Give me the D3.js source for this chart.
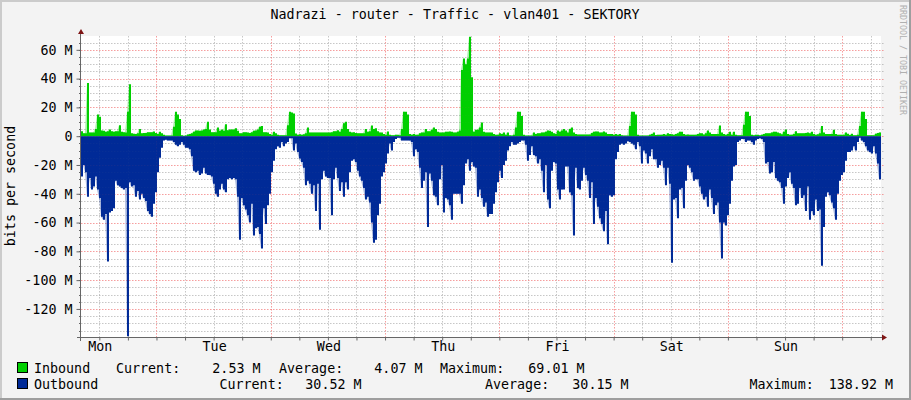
<!DOCTYPE html>
<html>
<head>
<meta charset="utf-8">
<script src="https://cdn.jsdelivr.net/npm/d3@7"></script>
<style>
html, body { margin: 0; padding: 0; background: #f3f3f3; }
svg { display: block; }
text { font-family: "DejaVu Sans Mono", monospace; font-size: 13.33px; fill: #000; white-space: pre; }
</style>
</head>
<body>
<svg id="chart" width="911" height="400"></svg>
<script>
// samples every 25 min or so, in Mbit/s
var inbound = [
    3.5,2,2,37,2.5,2.5,2.5,5,15,13.5,
    4,3.7,3,3.5,4.6,3.5,3,3.5,3.5,7.6,
    3,2.8,2.5,17,36,2,1.7,1.5,2,5,
    2,2.2,2.3,2.8,2.8,2.8,3.2,2.3,1.5,3,
    2,1,.5,.5,.5,.5,6.5,17,15,12,
    .7,.3,.5,1.2,1.5,2,3,4,4,3.7,
    4,4.6,5,10,4.6,2.8,2.8,2.8,6,3.7,
    4.6,3.7,8.3,4.2,4.6,4.6,4.6,5.5,3.7,2,
    2,2.8,2.8,2.6,2.3,2.8,3.7,4,4.6,6.5,
    7,2.8,2.8,2.6,1.6,1,3,2,1,.7,
    .7,.7,.7,7.6,17,16.5,15.7,1.8,1,1.4,
    1,1.4,2,6,2.5,2.5,2.5,2.5,2.5,2.5,
    2.5,2.5,2.5,2.5,2.5,2.8,3.5,3.5,4.2,3,
    5,9,10,5,3,2.5,2.8,2.3,2,2,
    2,2,5,3,3.5,7.5,5,5.5,3.5,2.5,
    2.5,1.6,1,3.2,1,.7,.7,1,1,.7,
    5,17,17,15,1.5,1,1.5,1,1,2,
    2.5,2.5,5,3.5,3.5,4.5,6,5,3,2.5,
    2.5,2.5,3,3,3.2,3,2.5,2.5,3,4,
    46,54,50,54,69,41,3,4.5,4.5,6,
    9.5,3,2.5,2.5,2.5,2.5,1.5,1,1,2,
    1.5,2.5,1,2.5,.7,.5,1,6,17,17,
    14,1,.5,.5,.5,.5,2.5,1.5,2,2,
    2.5,2.5,3,4,3.7,3,2,1.5,4,3,
    4,5,4,2.5,5,6,2.5,1.5,1.2,1.2,
    1.2,1.2,1.2,1.2,1.2,2.3,3,3.2,3.2,2.5,
    2.5,3.2,2.5,1.6,1.6,1.6,1,1.5,1,1.5,
    .7,.5,.5,.5,7,17,17,15,1,.5,
    .5,.5,.5,.5,1,1.5,2.5,.8,1,1,
    1,1.5,1,2,1.5,1.3,1,1.5,2,3,
    3,1.5,1,1.2,1,1,1,1,1.5,2,
    2,1.2,2,4,2.5,1.5,1.5,1.5,1.5,7.5,
    2.5,1.5,1,1.5,3,1,3,1,.7,.7,
    .7,8,17,17,14,1,.7,1,1,.7,
    1,1.5,2,2,2,2.5,3,3,2.5,2,
    1.3,3,4.7,1.5,1,1,1.5,3.5,2,2,
    2,2,2.3,2.5,2,3,1.5,1,1.3,2,
    7,2.5,1.5,1.5,1.5,1.5,4.5,1.5,1,1,
    1,1,2.5,1.7,.8,1.7,.7,.7,1,7,
    17,17,12,.7,.7,.7,.7,1.7,2.3,2.5
]
var outbound = [
    -28,-20,-25,-42,-29,-37,-35,-28,-37,-43,
    -56,-58,-54,-87,-53,-52,-50,-31,-34,-35,
    -36,-37,-36,-139,-32,-35,-34,-42,-38,-44,
    -40,-43,-45,-52,-54,-56,-47,-39,-25,-15,
    -8,-3,-2.5,-3,-3,-3,-4,-6,-7,-6,
    -4,-6,-8,-8,-9,-14,-24,-25,-24,-27,
    -26,-22,-26,-27,-27,-28,-33,-40,-42,-37,
    -33,-37,-39,-30,-29,-30,-29,-30,-42,-72,
    -43,-48,-51,-55,-60,-47,-69,-64,-63,-68,
    -78,-50,-61,-48,-40,-25,-17,-9,-7,-8,
    -4,-7,-5,-4,-1.5,-1.5,-10,-5,-11,-15.5,
    -18,-22,-34,-31,-33,-40,-34,-52,-33,-65,
    -30,-24,-28,-29,-29,-55,-30,-22,-29,-38,
    -32,-42,-32,-37,-25,-17,-16,-18,-24,-28,
    -31,-36,-44,-42,-46,-60,-74,-72,-55,-47,
    -28,-25,-19,-12,-5,-10,-4,-2,-1,-1,
    -3,-3,-3,-3,-3,-4,-14,-9,-11,-22,
    -36,-31,-25,-63,-26,-31,-41,-42,-48,-30,
    -20,-53,-43,-44,-48,-58,-40,-40,-40,-40,
    -47,-34,-19,-16,-24,-18,-21,-22,-42,-37,
    -43,-49,-46,-56,-54,-54,-47,-39,-32,-24,
    -29,-20,-17,-10,-7,-4,-6,-6,-5,-4,
    -3,-3,-6,-17,-13,-7,-13,-14,-19,-16,
    -24,-39,-20,-44,-50,-24,-18,-19,-37,-44,
    -37,-37,-21,-21,-39,-41,-69,-22,-36,-37,
    -31,-22,-27,-31,-43,-32,-61,-43,-49,-57,
    -61,-66,-52,-75,-41,-42,-41,-16,-11,-6,
    -5,-6,-5,-3.5,-4,-5,-6,-9,-4,-7,
    -19,-10,-12,-19,-14,-9,-16,-16,-22,-20,
    -17,-22,-34,-22,-33,-88,-44,-43,-57,-37,
    -36,-50,-31,-20,-22,-25,-31,-30,-30,-35,
    -40,-44,-42,-49,-37,-43,-54,-48,-46,-60,
    -85,-60,-62,-55,-47,-31,-21,-20,-4,-3,
    -2,-2,-4,-3,-3,-4,-6,-3,-2,-1.5,
    -2,-4,-19,-18,-26,-25,-18,-29,-31,-32,
    -36,-47,-35,-29,-25,-33,-36,-48,-47,-36,
    -43,-41,-52,-35,-58,-52,-55,-44,-52,-51,
    -90,-63,-42,-39,-41,-46,-50,-58,-40,-31,
    -27,-25,-17,-11,-11,-10,-7,-10,-4,-1,
    -3,-4,-7,-10,-11,-12,-7,-12,-19,-30
]
var dayLabels = ['Mon', 'Tue', 'Wed', 'Thu', 'Fri', 'Sat', 'Sun']
var yLabels = [60, 40, 20, 0, -20, -40, -60, -80, -100, -120]
var inboundLegend = [['Current:', '2.53 M'], ['Average:', '4.07 M'], ['Maximum:', '69.01 M']]
var outboundLegend = [['Current:', '30.52 M'], ['Average:', '30.15 M'], ['Maximum:', '138.92 M']]

var svg = d3.select('#chart')
var left = 81, right = 881, top_ = 36, bottom = 337

// hours counted from the Monday midnight
var hourStart = 8.15, hourEnd = 176.15
var x = d3.scaleLinear().domain([hourStart, hourEnd]).range([left, right])
var y = d3.scaleLinear().domain([-139.5, 69.6]).range([bottom, top_])
var hourOf = function (i) { return hourStart + i * (hourEnd - hourStart) / inbound.length }

// frame
svg.append('rect').attr('width', 911).attr('height', 400).attr('fill', '#f3f3f3')
svg.append('path').attr('d', 'M0,399V0H911').attr('fill', 'none').attr('stroke', '#cbcbcb').attr('stroke-width', 4)
svg.append('path').attr('d', 'M911,0V400H0').attr('fill', 'none').attr('stroke', '#9e9e9e').attr('stroke-width', 4)
svg.append('rect').attr('x', left).attr('y', top_).attr('width', right - left).attr('height', bottom - top_).attr('fill', '#fff')

var gridH = d3.range(-135, 70, 5)
var gridV = d3.range(12, hourEnd, 6)
function hLine(g, d, color) {
    g.append('line').attr('x1', left).attr('x2', right + 3).attr('y1', Math.round(y(d)) + 0.5).attr('y2', Math.round(y(d)) + 0.5)
        .attr('stroke', color).attr('stroke-dasharray', '1.5,1.5')
}
function vLine(g, d, color) {
    g.append('line').attr('y1', top_).attr('y2', bottom).attr('x1', Math.round(x(d)) + 0.5).attr('x2', Math.round(x(d)) + 0.5)
        .attr('stroke', color).attr('stroke-dasharray', '1.5,1.5')
}
function drawGrid(opacity) {
    var g = svg.append('g').attr('fill', 'none').attr('opacity', opacity)
    var minor = 'rgba(140,140,140,0.45)', major = 'rgba(240,90,90,0.55)'
    gridH.forEach(function (d) { if (d % 20 !== 0) hLine(g, d, minor) })
    gridV.forEach(function (d) { if (d % 24 !== 0) vLine(g, d, minor) })
    gridH.forEach(function (d) { if (d % 20 === 0) hLine(g, d, major) })
    gridV.forEach(function (d) { if (d % 24 === 0) vLine(g, d, major) })
}
drawGrid(1)

// areas: a soft linear layer under the stepped one gives the faded spike edges
function areaOf(values, curve) {
    var pts = values.concat([values[values.length - 1]])
    return d3.area()
        .x(function (d, i) { return x(hourOf(i)) })
        .y0(y(0))
        .y1(function (d) { return y(d) })
        .curve(curve)(pts)
}
svg.append('path').attr('d', areaOf(inbound, d3.curveLinear)).attr('fill', '#00CF00').attr('opacity', 0.35)
svg.append('path').attr('d', areaOf(outbound, d3.curveLinear)).attr('fill', '#002A97').attr('opacity', 0.35)
svg.append('path').attr('d', areaOf(inbound, d3.curveStepAfter)).attr('fill', '#00CF00')
svg.append('path').attr('d', areaOf(outbound, d3.curveStepAfter)).attr('fill', '#002A97')
drawGrid(0.12)

// axes
var axisColor = '#666'
var yAxis = d3.axisLeft(y).tickValues(yLabels).tickSize(4).tickPadding(5)
    .tickFormat(function (d) { return d === 0 ? '0' : d + ' M' })
var yG = svg.append('g').attr('transform', 'translate(' + (left - 0.5) + ',0)').call(yAxis)
yG.select('.domain').remove()
yG.selectAll('line').attr('stroke', axisColor)
yG.selectAll('text').attr('x', -8).attr('style', 'font-family:"DejaVu Sans Mono",monospace;font-size:13.33px')

var xAxis = d3.axisBottom(x).tickValues(d3.range(12, hourEnd, 6)).tickSize(3)
    .tickFormat(function () { return '' })
var xG = svg.append('g').attr('transform', 'translate(0,' + (bottom + 0.5) + ')').call(xAxis)
xG.select('.domain').remove()
xG.selectAll('line').attr('stroke', axisColor)

gridH.forEach(function (d) {
    svg.append('line').attr('x1', left - 2).attr('x2', left).attr('y1', Math.round(y(d)) + 0.5).attr('y2', Math.round(y(d)) + 0.5).attr('stroke', axisColor)
})
svg.append('line').attr('x1', left - 0.5).attr('x2', left - 0.5).attr('y1', 33).attr('y2', bottom + 4).attr('stroke', axisColor)
svg.append('line').attr('x1', left - 4).attr('x2', right + 2).attr('y1', bottom + 0.5).attr('y2', bottom + 0.5).attr('stroke', axisColor)
svg.append('path').attr('d', 'M78,34L81,29L84,34Z').attr('fill', '#7f1515')
svg.append('path').attr('d', 'M882,334.5L887,337.5L882,340.5Z').attr('fill', '#7f1515')

// day names sit at noon
svg.selectAll('.day').data(dayLabels).enter().append('text')
    .attr('class', 'day')
    .attr('x', function (d, i) { return x(12 + i * 24) + 1 })
    .attr('y', 351)
    .attr('text-anchor', 'middle')
    .text(function (d) { return d })

svg.append('text').attr('x', 455).attr('y', 19).attr('text-anchor', 'middle')
    .text('Nadrazi - router - Traffic - vlan401 - SEKTORY')
svg.append('text').attr('transform', 'translate(15,186) rotate(-90)').attr('text-anchor', 'middle')
    .text('bits per second')
svg.append('text').attr('transform', 'translate(899.5,5) rotate(90)')
    .style('font-size', '8.3px').style('fill', '#b0b0b0')
    .text('RRDTOOL / TOBI OETIKER')

// legend
function legendRow(name, color, rowY, labelX, valueX, items) {
    svg.append('rect').attr('x', 17.5).attr('y', rowY - 10.5).attr('width', 10).attr('height', 10)
        .attr('fill', color).attr('stroke', '#000')
    svg.append('text').attr('x', 34).attr('y', rowY).text(name)
    items.forEach(function (it, i) {
        svg.append('text').attr('x', labelX[i]).attr('y', rowY).text(it[0])
        svg.append('text').attr('x', valueX[i]).attr('y', rowY).attr('text-anchor', 'end').text(it[1])
    })
}
legendRow('Inbound', '#00CF00', 373, [116, 279, 440], [260.5, 422.5, 584.5], inboundLegend)
legendRow('Outbound', '#002A97', 389, [219.5, 485, 749.5], [361.5, 628.5, 893], outboundLegend)
</script>
</body>
</html>
